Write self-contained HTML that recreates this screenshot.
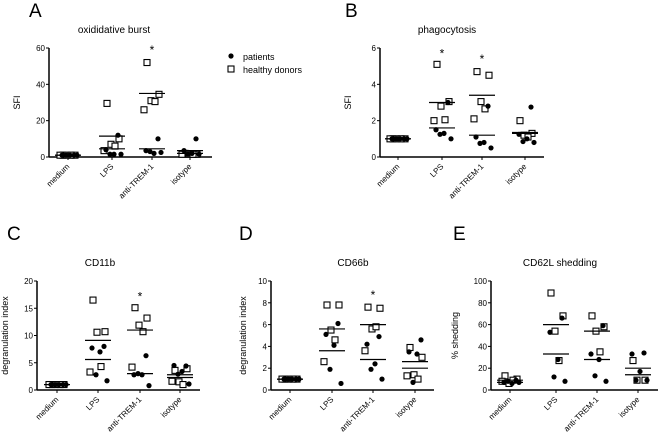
<!DOCTYPE html>
<html><head><meta charset="utf-8"><style>
html,body{margin:0;padding:0;background:#fff;}
svg{display:block;font-family:"Liberation Sans",Arial,sans-serif;}
</style></head><body>
<svg id="fig" width="660" height="435" viewBox="0 0 660 435"></svg>
<script>
const categories = ["medium","LPS","anti-TREM-1","isotype"];
// Panel A
const aPatients = [[1,1,1,1,1],[12,4,1.5,1.5,1.5],[10,3.5,2,3,2.5],[10,3.5,2,1.5,1.5]];
const aDonors = [[1,1,1,1,1],[29.5,10,7,6,3.5],[52,34.5,31,30.5,26],[2,1.5,1.5,1.5,1.5]];
const aLines = [[1,1],[11.5,4.5],[35,4.5],[3.5,2]];
const aStars = [null,null,60,null];
const aTicks = [0,20,40,60];
// Panel B
const bPatients = [[1,1,1,1,1],[3.0,1.5,1.3,1.25,1.0],[2.8,1.1,0.8,0.75,0.5],[2.75,1.25,1.0,0.85,0.8]];
const bDonors = [[1,1,1,1,1],[5.1,3.05,2.8,2.05,2.0],[4.7,4.5,3.05,2.65,2.1],[2.0,1.3,1.2,1.1]];
const bLines = [[1,1],[3.0,1.6],[3.4,1.2],[1.35,1.3]];
const bStars = [null,5.8,5.5,null];
const bTicks = [0,2,4,6];
// Panel C
const cPatients = [[1,1,1,1,1],[8.0,7.7,7.0,2.8,1.7],[6.3,2.8,2.8,3.0,0.8],[4.4,4.5,3.4,2.9,1.1]];
const cDonors = [[1,1,1,1,1],[16.5,10.7,10.6,4.3,3.3],[15.1,13.2,11.9,10.7,4.2],[3.6,3.9,1.5,1.0,1.6]];
const cLines = [[1,1],[9.1,5.6],[11,3.0],[2.8,2.3]];
const cStars = [null,null,17.5,null];
const cTicks = [0,5,10,15,20];
// Panel D
const dPatients = [[1,1,1,1,1],[6.1,5.1,4.1,1.9,0.6],[4.9,4.2,2.4,1.9,1.0],[4.6,3.5,3.3,0.7]];
const dDonors = [[1,1,1,1,1],[7.8,7.8,5.5,4.6,2.6],[7.6,7.5,5.6,5.8,3.6],[3.9,3.0,1.4,1.0,1.3]];
const dLines = [[1,1],[5.6,3.6],[6.0,2.8],[2.6,2.0]];
const dStars = [null,null,8.9,null];
const dTicks = [0,2,4,6,8,10];
// Panel E
const ePatients = [[9,7,6,8,7],[66,53,28,12,8],[59,33,28,13,8],[34,33,17,9,9]];
const eDonors = [[13,10,6,9,8],[89,68,54,27],[68,58,54,35],[27,9,9]];
const eLines = [[9,7],[60,33],[54,28],[20,14]];
const eStars = [null,null,null,null];
const eTicks = [0,20,40,60,80,100];

const NS="http://www.w3.org/2000/svg";
const svg=document.getElementById('fig');
function mk(tag,attrs,parent,text){const e=document.createElementNS(NS,tag);for(const k in attrs)e.setAttribute(k,attrs[k]);if(text!==undefined)e.textContent=text;(parent||svg).appendChild(e);return e;}

const jit=[-6,6,-2,2,-9,9,0];
function panel(cfg){
  const g=mk('g',{});
  
  
  const max=cfg.ticks[cfg.ticks.length-1];
  const y=v=>cfg.y0-(v/max)*(cfg.y0-cfg.y1);
  const xs=cfg.cx;
  let t=mk('text',{x:cfg.lx,y:cfg.ly,'font-size':19},g,cfg.letter);
  
  t=mk('text',{x:cfg.tx,y:cfg.ty,'font-size':10,'text-anchor':'middle'},g,cfg.title);
  
  const ym=(cfg.y0+cfg.y1)/2;
  t=mk('text',{x:cfg.ax-cfg.ylOff,y:ym,'font-size':9,'text-anchor':'middle',transform:`rotate(-90 ${cfg.ax-cfg.ylOff} ${ym})`},g,cfg.ylabel);
  
  let l=mk('line',{x1:cfg.ax,y1:cfg.y1,x2:cfg.ax,y2:cfg.y0,stroke:'#000','stroke-width':1.5},g);
  
  l=mk('line',{x1:cfg.ax,y1:cfg.y0,x2:cfg.xe,y2:cfg.y0,stroke:'#000','stroke-width':1.5},g);
  
  cfg.ticks.forEach(v=>{
    mk('line',{x1:cfg.ax-3,y1:y(v),x2:cfg.ax,y2:y(v),stroke:'#000','stroke-width':1},g);
    const tt=mk('text',{x:cfg.ax-4,y:y(v)+3,'font-size':8,'text-anchor':'end'},g,v);
    
  });
  categories.forEach((c,i)=>{
    const x=xs[i];
    mk('line',{x1:x,y1:cfg.y0,x2:x,y2:cfg.y0+3,stroke:'#000','stroke-width':1},g);
    const tt=mk('text',{x:x+2,y:cfg.y0+10,'font-size':8,'text-anchor':'end',transform:`rotate(-45 ${x+2} ${cfg.y0+10})`},g,c);
    
    cfg.donors[i].forEach((v,j)=>{
      const r=mk('rect',{x:x+jit[j%7]+1-3,y:y(v)-3,width:6,height:6,fill:'#fff',stroke:'#000','stroke-width':1.1},g);
      
    });
    cfg.patients[i].forEach((v,j)=>{
      const p=mk('circle',{cx:x-jit[j%7],cy:y(v),r:2.6,fill:'#000'},g);
      
    });
    cfg.lines[i].forEach(v=>{
      const ml=mk('line',{x1:x-13,y1:y(v),x2:x+13,y2:y(v),stroke:'#000','stroke-width':1.2},g);
      
    });
    if(cfg.stars[i]!==null){
      const s=mk('text',{x:x,y:y(cfg.stars[i])+6,'font-size':12,'text-anchor':'middle'},g,'*');
      
    }
  });
}
panel({letter:'A',lx:29,ly:17,title:'oxididative burst',tx:114,ty:33,ylabel:'SFI',ylOff:29,ax:49,y0:157,y1:48,xe:212,cx:[68,112,152,190],ticks:aTicks,patients:aPatients,donors:aDonors,lines:aLines,stars:aStars});
panel({letter:'B',lx:345,ly:17,title:'phagocytosis',tx:447,ty:33,ylabel:'SFI',ylOff:29,ax:380,y0:157,y1:48,xe:544,cx:[398,442,482,525],ticks:bTicks,patients:bPatients,donors:bDonors,lines:bLines,stars:bStars});
panel({letter:'C',lx:7,ly:240,title:'CD11b',tx:100,ty:266,ylabel:'degranulation index',ylOff:29,ax:37,y0:390,y1:281,xe:200,cx:[57,98,140,180],ticks:cTicks,patients:cPatients,donors:cDonors,lines:cLines,stars:cStars});
panel({letter:'D',lx:239,ly:240,title:'CD66b',tx:353,ty:266,ylabel:'degranulation index',ylOff:25,ax:271,y0:390,y1:281,xe:434,cx:[290,332,373,415],ticks:dTicks,patients:dPatients,donors:dDonors,lines:dLines,stars:dStars});
panel({letter:'E',lx:453,ly:240,title:'CD62L shedding',tx:560,ty:266,ylabel:'% shedding',ylOff:33,ax:491,y0:390,y1:281,xe:658,cx:[510,556,597,638],ticks:eTicks,patients:ePatients,donors:eDonors,lines:eLines,stars:eStars});

// legend
const lg=mk('g',{});


mk('circle',{cx:231,cy:56,r:2.6,fill:'#000'},lg);
mk('text',{x:243,y:60,'font-size':9},lg,'patients');
mk('rect',{x:228,y:66,width:6,height:6,fill:'#fff',stroke:'#000','stroke-width':1.1},lg);
mk('text',{x:243,y:73,'font-size':9},lg,'healthy donors');
</script>
</body></html>
